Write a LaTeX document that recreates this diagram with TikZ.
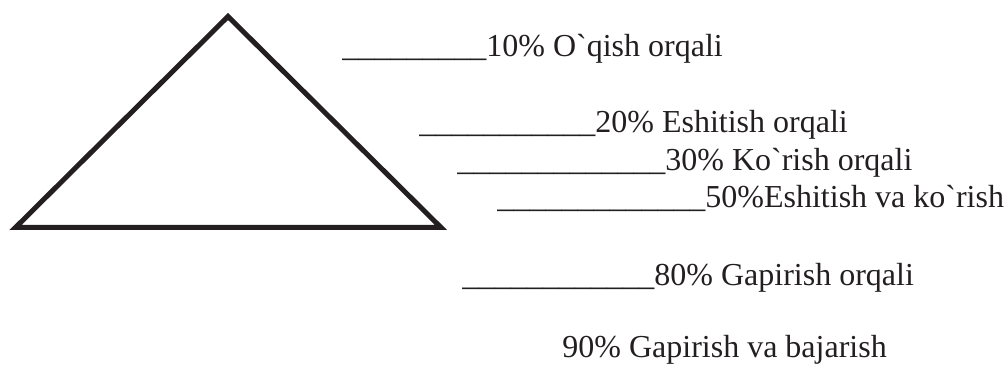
\documentclass[tikz,border=0pt]{standalone}
\usepackage{fontspec}
\setmainfont{Liberation Serif}
\definecolor{ink}{HTML}{231F20}
\newcommand{\blanks}[1]{\foreach \k in {1,...,#1}{\_}}
\tikzset{
  rowtext/.style={anchor=base west, inner sep=0pt, text=ink, font=\fontsize{16}{19}\selectfont},
}
\begin{document}
\begin{tikzpicture}[x=1pt, y=1pt]
    \useasboundingbox (0,0) rectangle (503,184.5);

    % Sommets du triangle
    \coordinate (A) at (114,176.25);
    \coordinate (B) at (7.75,70.75);
    \coordinate (C) at (220.5,70.75);

    % Triangle
    \draw[ink, line width=2.5pt, line join=miter] (A) -- (B) -- (C) -- cycle;

    % Lignes de texte
    \node[rowtext] (r10) at (171,156) {\blanks{9}10\% O\textasciigrave qish orqali};
    \node[rowtext] (r20) at (209.5,118) {\blanks{11}20\% Eshitish orqali};
    \node[rowtext] (r30) at (228.5,99) {\blanks{13}30\% Ko\textasciigrave rish orqali};
    \node[rowtext] (r50) at (248.5,80.5) {\blanks{13}50\%Eshitish va ko\textasciigrave rish};
    \node[rowtext] (r80) at (231,41.5) {\blanks{12}80\% Gapirish orqali};
    \node[rowtext] (r90) at (281,5.5) {90\% Gapirish va bajarish};
\end{tikzpicture}
\end{document}
